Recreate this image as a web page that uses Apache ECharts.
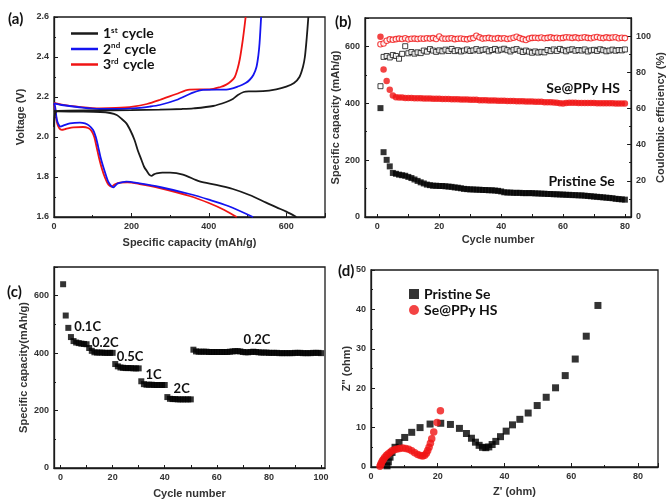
<!DOCTYPE html>
<html>
<head>
<meta charset="utf-8">
<script src="https://cdn.jsdelivr.net/npm/echarts@6/dist/echarts.min.js"></script>
<style>
  html, body { margin: 0; padding: 0; background: #fff; }
  #main { width: 667px; height: 500px; }
</style>
</head>
<body>
<div id="main"></div>
<script>
// (a) charge / discharge profiles, [capacity mAh/g, voltage V]
var c1Discharge = [[0,2.13],[10,2.128],[60,2.127],[120,2.125],[145,2.12],[162,2.11],[175,2.09],[187,2.068],[198,2.03],[208,1.985],[217,1.93],[226,1.885],[233,1.85],[239,1.832],[246,1.812],[252,1.806],[258,1.813],[265,1.818],[280,1.822],[300,1.822],[333,1.812],[376,1.778],[419,1.761],[462,1.74],[505,1.71],[548,1.672],[575,1.648],[600,1.627],[626,1.6]];
var c1Charge = [[0,2.05],[3,2.12],[10,2.13],[100,2.133],[200,2.134],[273,2.137],[330,2.14],[360,2.143],[411,2.155],[445,2.175],[462,2.19],[475,2.21],[490,2.225],[505,2.228],[540,2.229],[574,2.238],[600,2.252],[620,2.27],[634,2.30],[643,2.35],[648,2.40],[653,2.5],[657,2.6]];
var c2Discharge = [[0,2.168],[3,2.15],[7,2.09],[11,2.065],[17,2.052],[25,2.058],[41,2.068],[67,2.072],[80,2.068],[90,2.058],[101,2.035],[108,2.0],[114,1.952],[120,1.9],[127,1.852],[134,1.81],[140,1.777],[147,1.757],[153,1.748],[159,1.758],[165,1.768],[187,1.777],[221,1.768],[273,1.75],[350,1.715],[400,1.687],[450,1.655],[514,1.6]];
var c2Charge = [[0,2.168],[20,2.16],[60,2.15],[118,2.14],[160,2.14],[204,2.143],[247,2.152],[273,2.16],[316,2.185],[359,2.222],[385,2.236],[420,2.237],[445,2.237],[479,2.255],[495,2.27],[505,2.285],[515,2.31],[523,2.35],[528,2.41],[531,2.47],[535,2.6]];
var c3Discharge = [[0,2.165],[3,2.14],[8,2.07],[14,2.042],[20,2.036],[30,2.04],[50,2.048],[75,2.05],[88,2.045],[97,2.03],[104,2.0],[110,1.95],[117,1.89],[124,1.84],[131,1.8],[138,1.77],[144,1.756],[149,1.752],[156,1.762],[170,1.772],[190,1.773],[221,1.765],[273,1.745],[350,1.705],[400,1.67],[440,1.635],[472,1.6]];
var c3Charge = [[0,2.17],[20,2.162],[60,2.152],[118,2.143],[160,2.145],[204,2.152],[240,2.165],[273,2.185],[316,2.215],[350,2.237],[375,2.238],[402,2.238],[430,2.25],[445,2.262],[458,2.28],[467,2.30],[474,2.34],[480,2.39],[485,2.45],[490,2.52],[495,2.6]];
var cycleNames = ['1st cycle', '2nd cycle', '3rd cycle'];

// (b) cycling, cycles 1..80
var pristineCap = [383,228,201,178,155,152,149,147,145,141,137,132,127,122,118,114,112,110,110,109,109,108,107,106,104,103,101,99,98,97,97,96,96,95,95,94,94,93,92,90,87,86,86,85,85,85,84,84,84,84,83,83,82,82,81,81,80,80,79,79,78,78,77,77,76,76,75,74,73,72,71,70,69,68,67,66,64,63,62,61];
var hsCap = [634,519,478,448,427,421,420,420,419,419,419,418,418,418,417,417,417,416,416,416,415,415,415,414,414,414,413,413,413,412,412,412,411,411,411,410,410,410,409,409,409,408,408,408,407,407,407,406,406,406,405,405,405,404,404,404,403,402,400,399,401,402,402,402,401,401,401,401,401,401,400,400,400,400,400,400,399,399,399,399];
var pristineCE = [72.3,88.5,89.0,88.2,89.5,89.0,87.5,90.2,94.4,90.5,91.2,90.3,91.0,90.6,92.0,91.4,92.8,92.0,91.3,92.1,91.6,92.5,91.8,92.9,91.7,92.2,91.5,92.0,92.6,91.8,92.1,92.8,91.9,92.4,92.7,91.6,92.3,92.9,92.0,92.5,93.0,92.2,91.5,92.4,92.8,91.9,91.2,92.0,91.4,90.8,91.5,90.9,91.3,91.0,92.3,91.7,92.6,91.8,92.9,92.2,91.6,92.4,92.7,91.9,92.3,92.0,92.6,91.5,92.1,92.4,91.8,92.7,92.2,91.6,92.0,92.5,91.9,92.3,92.1,92.6];
var hsCE = [95.5,95.9,97.4,98.2,98.0,98.3,98.6,98.4,98.8,98.2,98.5,98.6,98.4,98.7,98.5,98.8,98.6,98.9,98.4,99.8,98.7,98.5,98.6,98.8,98.3,98.5,98.7,98.4,98.2,98.6,98.9,100.2,99.3,98.6,98.8,99.0,98.7,98.5,98.9,98.6,98.8,98.4,98.7,99.1,99.6,98.9,98.3,97.8,98.6,99.0,99.1,98.9,99.2,98.8,99.0,99.3,98.9,99.1,98.8,99.0,99.4,99.2,99.0,99.3,98.9,99.1,99.4,99.0,98.8,99.2,99.5,99.1,98.9,99.3,99.0,99.2,99.4,98.8,99.1,98.9];

// (c) rate performance, cycles 1..100
var rateCap = [640,531,488,456,442,437,435,433,432,431,418,408,403,402,402,402,401,401,401,401,
  362,354,350,349,348,348,348,347,347,347,302,292,290,290,290,289,289,289,289,289,
  247,241,240,240,239,239,239,239,239,239,412,406,405,405,405,405,404,404,404,404,
  404,404,404,404,405,406,407,407,406,404,403,403,404,405,404,403,402,402,402,401,
  401,401,401,400,400,400,400,400,400,401,401,401,400,400,400,400,401,401,401,400];
var rateLabels = ['0.1C', '0.2C', '0.5C', '1C', '2C', '0.2C'];
var rateLabelAt = [[10.4,492],[17.2,436],[26.7,387],[35.7,324],[46.5,276],[75.4,446]];

// (d) Nyquist plots
var pristineRe = [4.8,5.2,5.7,6.3,7.2,8.4,10.1,12.2,14.7,17.7,20.9,23.8,26.5,28.6,30.1,31.3,32.4,33.4,34.4,35.3,36.3,37.4,38.8,40.5,42.4,44.6,47.1,49.8,52.5,55.3,58.2,61.2,64.5,68.0];
var pristineIm = [0.3,1.3,2.5,3.7,5.0,6.2,7.5,8.8,10.0,10.9,11.1,10.8,9.8,8.5,7.3,6.3,5.5,5.0,4.9,5.1,5.7,6.5,7.7,9.1,10.7,12.1,13.7,15.6,17.7,20.1,23.2,27.4,33.2,41.0];
var hsRe = [2.7,2.9,3.1,3.4,3.7,4.1,4.6,5.1,5.7,6.3,7.0,7.8,8.6,9.5,10.4,11.3,12.2,13.1,14.0,14.8,15.5,16.1,16.6,17.0,17.4,17.8,18.2,18.8,19.8,20.8];
var hsIm = [0.2,0.6,1.0,1.5,1.9,2.4,2.9,3.3,3.7,4.1,4.4,4.6,4.7,4.8,4.7,4.5,4.1,3.6,3.2,2.9,2.8,3.0,3.5,4.2,5.0,6.0,7.2,8.9,11.3,14.3];

var INK = '#1a1a1a';
var BLUE = '#1414f0';
var RED = '#f01414';
var labelFont = 'Liberation Sans';

function pairs(xs, ys) { return xs.map(function (x, i) { return [x, ys[i]]; }); }
function byCycle(arr) { return arr.map(function (v, i) { return [i + 1, v]; }); }

function axis(o) {
    var a = {
        type: 'value',
        axisLine: {show: true, onZero: false, lineStyle: {color: INK, width: 1.3}},
        axisTick: {show: true, inside: true, length: 4, lineStyle: {color: INK, width: 1}},
        minorTick: {show: true, splitNumber: 2, length: 2, lineStyle: {color: INK, width: 1}},
        axisLabel: {margin: 5, fontFamily: labelFont, fontWeight: 'bold', fontSize: 9, color: '#333', showMaxLabel: false},
        splitLine: {show: false},
        nameLocation: 'middle',
        nameTextStyle: {fontFamily: labelFont, fontWeight: 'bold', fontSize: 11, color: '#333'}
    };
    for (var k in o) {
        if (o[k] && typeof o[k] === 'object' && !Array.isArray(o[k]) && a[k]) {
            for (var j in o[k]) a[k][j] = o[k][j];
        } else {
            a[k] = o[k];
        }
    }
    return a;
}

var grids = [
    {left: 54, top: 17, width: 271, height: 200},
    {left: 365, top: 18, width: 269, height: 199},
    {left: 54, top: 267, width: 271, height: 202},
    {left: 371, top: 270, width: 287, height: 197}
].map(function (g) {
    g.show = true; g.borderColor = INK; g.borderWidth = 1.3; g.backgroundColor = '#fff';
    return g;
});

var xAxes = [
    axis({gridIndex: 0, min: 0, max: 700, interval: 200, name: 'Specific capacity (mAh/g)', nameGap: 20}),
    axis({gridIndex: 1, min: -4, max: 82, name: 'Cycle number', nameGap: 17,
        axisTick: {customValues: [0,10,20,30,40,50,60,70,80], length: 3},
        minorTick: {show: false},
        axisLabel: {customValues: [0,20,40,60,80], showMaxLabel: true}}),
    axis({gridIndex: 2, min: -2.5, max: 101.5, name: 'Cycle number', nameGap: 20,
        axisTick: {customValues: [0,10,20,30,40,50,60,70,80,90,100], length: 3},
        minorTick: {show: false},
        axisLabel: {customValues: [0,20,40,60,80,100], showMaxLabel: true}}),
    axis({gridIndex: 3, min: 0, max: 86, interval: 20, name: "Z' (ohm)", nameGap: 19})
];

var yAxes = [
    axis({gridIndex: 0, min: 1.6, max: 2.6, interval: 0.2, name: 'Voltage (V)', nameGap: 28,
        axisLabel: {showMaxLabel: true, formatter: function (v) { return v.toFixed(1); }}}),
    axis({gridIndex: 1, min: 0, max: 700, interval: 200, name: 'Specific capacity (mAh/g)', nameGap: 20}),
    axis({gridIndex: 1, position: 'right', min: 0, max: 110, interval: 20, name: 'Coulombic efficiency (%)', nameGap: 22,
        nameRotate: 90}),
    axis({gridIndex: 2, min: 0, max: 700, interval: 200, name: 'Specific capacity(mAh/g)', nameGap: 25}),
    axis({gridIndex: 3, min: 0, max: 50, interval: 10, name: "Z'' (ohm)", nameGap: 19,
        axisLabel: {showMaxLabel: true}})
];

var series = [];
var cycleData = [[c1Discharge, c1Charge], [c2Discharge, c2Charge], [c3Discharge, c3Charge]];
var cycleColors = [INK, BLUE, RED];
cycleData.forEach(function (pair, i) {
    pair.forEach(function (curve) {
        series.push({
            type: 'line', name: cycleNames[i], xAxisIndex: 0, yAxisIndex: 0,
            data: curve, smooth: 0.3, symbol: 'none', clip: true,
            color: cycleColors[i], lineStyle: {width: 1.8, color: cycleColors[i]},
            z: 3 - i
        });
    });
});

var noteStyle = {fontFamily: 'Lato', fontWeight: 'bold', fontSize: 14, color: '#111'};

series.push({
    type: 'scatter', name: 'Pristine Se capacity', xAxisIndex: 1, yAxisIndex: 1,
    data: byCycle(pristineCap), symbol: 'rect', symbolSize: 6,
    itemStyle: {color: '#000'},
    markPoint: {symbol: 'rect', symbolSize: 0, silent: true,
        label: Object.assign({show: true, formatter: 'Pristine Se'}, noteStyle),
        data: [{coord: [66, 124]}]}
});
series.push({
    type: 'scatter', name: 'Se@PPy HS capacity', xAxisIndex: 1, yAxisIndex: 1,
    data: byCycle(hsCap), symbol: 'circle', symbolSize: 6.5,
    itemStyle: {color: RED},
    markPoint: {symbol: 'rect', symbolSize: 0, silent: true,
        label: Object.assign({show: true, formatter: 'Se@PPy HS'}, noteStyle),
        data: [{coord: [66.5, 452]}]}
});
series.push({
    type: 'scatter', name: 'Pristine Se CE', xAxisIndex: 1, yAxisIndex: 2,
    data: byCycle(pristineCE), symbol: 'rect', symbolSize: 5,
    itemStyle: {color: '#fff', borderColor: '#111', borderWidth: 1}
});
series.push({
    type: 'scatter', name: 'Se@PPy HS CE', xAxisIndex: 1, yAxisIndex: 2,
    data: byCycle(hsCE), symbol: 'circle', symbolSize: 5.5,
    itemStyle: {color: '#fff', borderColor: RED, borderWidth: 1.1}
});

series.push({
    type: 'scatter', name: 'rate', xAxisIndex: 2, yAxisIndex: 3,
    data: byCycle(rateCap), symbol: 'rect', symbolSize: 6,
    itemStyle: {color: '#000'},
    markPoint: {symbol: 'rect', symbolSize: 0, silent: true,
        label: {show: true, fontFamily: 'Lato', fontWeight: 'bold', fontSize: 13, color: '#111',
            formatter: function (p) { return p.name; }},
        data: rateLabels.map(function (t, i) { return {name: t, coord: rateLabelAt[i]}; })}
});

series.push({
    type: 'scatter', name: 'Pristine Se', xAxisIndex: 3, yAxisIndex: 4,
    data: pairs(pristineRe, pristineIm), symbol: 'rect', symbolSize: 7,
    itemStyle: {color: '#000'}, z: 2
});
series.push({
    type: 'scatter', name: 'Se@PPy HS', xAxisIndex: 3, yAxisIndex: 4,
    data: pairs(hsRe, hsIm), symbol: 'circle', symbolSize: 7.5,
    itemStyle: {color: RED}, z: 3
});

var panelFont = 'bold 15px Lato';
var option = {
    backgroundColor: '#fff',
    animation: false,
    grid: grids,
    xAxis: xAxes,
    yAxis: yAxes,
    legend: [
        {
            data: cycleNames, orient: 'vertical', left: 66, top: 21, itemGap: 1,
            icon: 'rect', itemWidth: 27, itemHeight: 2.5, selectedMode: false,
            formatter: function (name) {
                return '{n|' + name.charAt(0) + '}{s|' + name.substr(1, 2) + '}{n|' + name.substr(3) + '}';
            },
            textStyle: {
                rich: {
                    n: {fontFamily: 'Lato', fontWeight: 'bold', fontSize: 14, color: '#111'},
                    s: {fontFamily: 'Lato', fontWeight: 'bold', fontSize: 8, color: '#111', verticalAlign: 'top', padding: [0, 1, 7, 0]}
                }
            }
        },
        {
            data: ['Pristine Se', 'Se@PPy HS'], orient: 'vertical', left: 404, top: 282, itemGap: 2,
            itemWidth: 10, itemHeight: 10, selectedMode: false,
            textStyle: {fontFamily: 'Lato', fontWeight: 'bold', fontSize: 14, color: '#111'}
        }
    ],
    graphic: [
        {type: 'text', left: 8, top: 12, style: {text: '(a)', font: panelFont, fill: '#111'}},
        {type: 'text', left: 335, top: 15, style: {text: '(b)', font: panelFont, fill: '#111'}},
        {type: 'text', left: 7, top: 285, style: {text: '(c)', font: panelFont, fill: '#111'}},
        {type: 'text', left: 338, top: 264, style: {text: '(d)', font: panelFont, fill: '#111'}}
    ],
    series: series
};

echarts.init(document.getElementById('main')).setOption(option);
</script>
</body>
</html>
